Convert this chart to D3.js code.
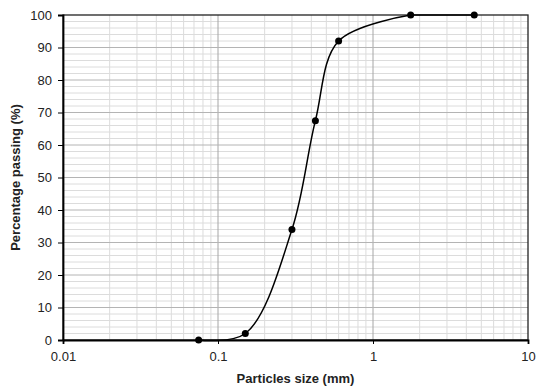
<!DOCTYPE html>
<html>
<head>
<meta charset="utf-8">
<script src="https://cdn.jsdelivr.net/npm/d3@7"></script>
<style>
  body { margin: 0; background: #fff; }
  svg { font-family: "Liberation Sans", Arial, sans-serif; }
</style>
</head>
<body>
<div id="chart"></div>
<script>
// sieve sizes (mm) and percentage passing
const sizes = [0.075, 0.15, 0.3, 0.425, 0.6, 1.75, 4.5];
const passing = [0, 2, 34, 67.5, 92, 100, 100];
const xTicks = [0.01, 0.1, 1, 10];
const yTicks = [0, 10, 20, 30, 40, 50, 60, 70, 80, 90, 100];

const width = 536, height = 388;
const margin = { top: 15, right: 8, bottom: 48, left: 63 };
const w = width - margin.left - margin.right;
const h = height - margin.top - margin.bottom;

const svg = d3.select('#chart').append('svg').attr('width', width).attr('height', height);
const g = svg.append('g').attr('transform', `translate(${margin.left},${margin.top})`);

const x = d3.scaleLog().domain([0.01, 10]).range([0, w]);
const y = d3.scaleLinear().domain([0, 100]).range([h, 0]);

// minor grid
const minorX = [];
[0.01, 0.1, 1].forEach(d => { for (let k = 2; k <= 9; k++) minorX.push(d * k); });
g.selectAll('.vminor').data(minorX).enter().append('line')
  .attr('x1', d => x(d)).attr('x2', d => x(d)).attr('y1', 0).attr('y2', h)
  .attr('stroke', '#dcdcdc').attr('stroke-width', 1);
const minorY = d3.range(0, 101, 2).filter(v => v % 10 !== 0);
g.selectAll('.hminor').data(minorY).enter().append('line')
  .attr('x1', 0).attr('x2', w).attr('y1', d => y(d)).attr('y2', d => y(d))
  .attr('stroke', '#dcdcdc').attr('stroke-width', 1);

// major grid
g.selectAll('.vmajor').data(xTicks.slice(1, -1)).enter().append('line')
  .attr('x1', d => x(d)).attr('x2', d => x(d)).attr('y1', 0).attr('y2', h)
  .attr('stroke', '#a6a6a6').attr('stroke-width', 1);
g.selectAll('.hmajor').data(yTicks.slice(1, -1)).enter().append('line')
  .attr('x1', 0).attr('x2', w).attr('y1', d => y(d)).attr('y2', d => y(d))
  .attr('stroke', '#b4b4b4').attr('stroke-width', 1);

// frame
g.append('rect').attr('x', 0).attr('y', 0).attr('width', w).attr('height', h)
  .attr('fill', 'none').attr('stroke', '#222').attr('stroke-width', 1.3);

// axes
const xAxis = g.append('g').attr('transform', `translate(0,${h})`)
  .call(d3.axisBottom(x).tickValues(xTicks).tickFormat(d3.format('~g')).tickSize(4).tickPadding(8));
const yAxis = g.append('g')
  .call(d3.axisLeft(y).tickValues(yTicks).tickSize(5).tickPadding(6));
[xAxis, yAxis].forEach(a => {
  a.select('.domain').attr('stroke', '#000').attr('stroke-width', 1.8);
  a.selectAll('.tick line').attr('stroke', '#000').attr('stroke-width', 1);
  a.selectAll('text').attr('fill', '#222').style('font-size', '13px')
    .style('font-family', '"Liberation Sans", Arial, sans-serif');
});

// curve: smoothed through the graded points, flat once it reaches 100 %
const pts = sizes.map((s, i) => [x(s), y(passing[i])]);
const lastRise = passing.indexOf(100);
const smooth = d3.line().curve(d3.curveCatmullRom.alpha(0.5));
g.append('path').datum(pts.slice(0, lastRise + 1))
  .attr('d', smooth)
  .attr('fill', 'none').attr('stroke', '#000').attr('stroke-width', 1.5);
g.append('path').datum(pts.slice(lastRise))
  .attr('d', d3.line())
  .attr('fill', 'none').attr('stroke', '#000').attr('stroke-width', 1.5);

g.selectAll('.pt').data(pts).enter().append('circle')
  .attr('cx', d => d[0]).attr('cy', d => d[1]).attr('r', 3.5).attr('fill', '#000');

// titles
svg.append('text').attr('x', margin.left + w / 2).attr('y', 383)
  .attr('text-anchor', 'middle').style('font-size', '13px').style('font-weight', 'bold')
  .attr('fill', '#222').text('Particles size (mm)');
svg.append('text').attr('transform', `translate(20,${margin.top + h / 2}) rotate(-90)`)
  .attr('text-anchor', 'middle').style('font-size', '13px').style('font-weight', 'bold')
  .attr('fill', '#222').text('Percentage passing (%)');
</script>
</body>
</html>
